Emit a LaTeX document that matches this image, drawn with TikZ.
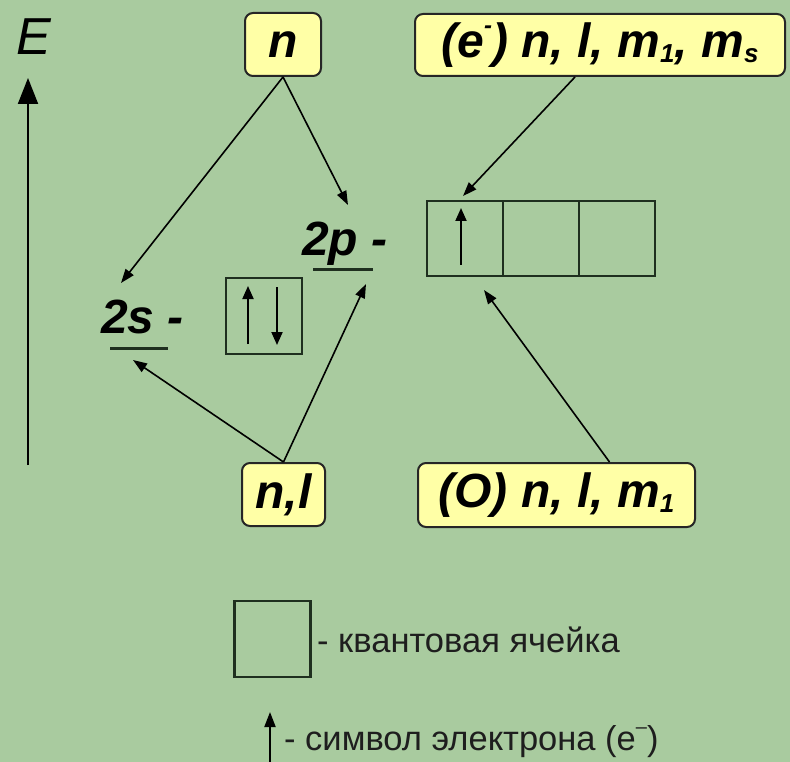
\documentclass[tikz,border=0pt]{standalone}
\usepackage{fontspec}
\setmainfont{Liberation Sans}
\usetikzlibrary{arrows.meta}
\definecolor{bg}{HTML}{A9CB9F}
\definecolor{boxfill}{HTML}{FFFFA6}
\definecolor{cellc}{HTML}{1F2F1F}
\definecolor{legtext}{HTML}{1E1E1E}
\newcommand\labfont{\fontsize{48}{52}\selectfont\bfseries\itshape}
\newcommand\subsc[1]{\raisebox{-0.1em}{\fontsize{26}{26}\selectfont #1}}
\newcommand\supm{\raisebox{0.5em}{\fontsize{24}{24}\selectfont -}}
\tikzset{
  lbl/.style={draw=black!85, line width=2pt, fill=boxfill, rounded corners=8pt,
    inner sep=0pt, font=\labfont},
  conn/.style={line width=1.6pt, -{Triangle[length=14pt,width=10pt]}},
  cell/.style={draw=cellc, line width=2.2pt, inner sep=0pt},
  elec/.style={line width=2pt, -{Triangle[length=13pt,width=11pt]}},
  bar/.style={draw=cellc, line width=3pt},
  orb/.style={font=\labfont, inner sep=0pt, anchor=base west},
  legend/.style={font=\fontsize{34.5}{38}\selectfont, text=legtext, inner sep=0pt, anchor=west},
}
\begin{document}
\begin{tikzpicture}[x=1pt,y=-1pt]
\fill[bg] (0,0) rectangle (790,762);
\useasboundingbox (0,0) rectangle (790,762);

% energy axis
\draw[line width=2pt, -{Triangle[length=26pt,width=20pt]}] (28,465) -- (28,78);
\node[inner sep=0pt, font=\fontsize{52}{56}\selectfont\itshape] (E) at (34,37) {E};

% label boxes
\node[lbl, minimum width=76pt, minimum height=63pt] (n) at (283,44.5) {n};
\node[lbl, minimum width=370pt, minimum height=62pt] (e) at (600,45) {(e\supm) n, l, m\subsc{1}, m\subsc{s}};
\node[lbl, minimum width=83pt, minimum height=63pt] (nl) at (283.5,494.5) {n,l};
\node[lbl, minimum width=277pt, minimum height=64pt] (O) at (556.5,495) {(O) n, l, m\subsc{1}};

% orbitals
\node[orb] (s2) at (101,333) {2s -};
\node[orb] (p2) at (302,256) {2p -};
\draw[bar] (110,348) -- (168,348);
\draw[bar] (313,270) -- (373,270);

% 2s cell
\node[cell, minimum width=76pt, minimum height=76pt] (sbox) at (264,316) {};
\draw[elec] (248,344) -- (248,286);
\draw[elec] (277,287) -- (277,345);

% 2p cells
\node[cell, minimum width=76pt, minimum height=75pt] (c1) at (465,238.5) {};
\node[cell, minimum width=76pt, minimum height=75pt] (c2) at (541,238.5) {};
\node[cell, minimum width=76pt, minimum height=75pt] (c3) at (617,238.5) {};
\draw[elec] (461,265) -- (461,208);

% connector ends
\coordinate (s2top) at (121,283);
\coordinate (p2top) at (348,205);
\coordinate (c1top) at (463,196);
\coordinate (s2low) at (133,360);
\coordinate (p2low) at (366,284);
\coordinate (cellslow) at (484,290);

\draw[conn] (n.south) -- (s2top);
\draw[conn] (n.south) -- (p2top);
\draw[conn] ([xshift=-25pt]e.south) -- (c1top);
\draw[conn] (nl.north) -- (s2low);
\draw[conn] (nl.north) -- (p2low);
\draw[conn] ([xshift=53pt]O.north) -- (cellslow);

% legend
\node[cell, minimum width=76pt, minimum height=76pt] (leg) at (272.5,639) {};
\node[legend] (legt) at (317,640) {- квантовая ячейка};
\draw[line width=2pt, -{Triangle[length=15pt,width=11pt]}] (270,765) -- (270,712);
\node[legend] (legt2) at (284,742) {- символ электрона (e\raisebox{0.5em}{\fontsize{20}{20}\selectfont –})};
\end{tikzpicture}
\end{document}
